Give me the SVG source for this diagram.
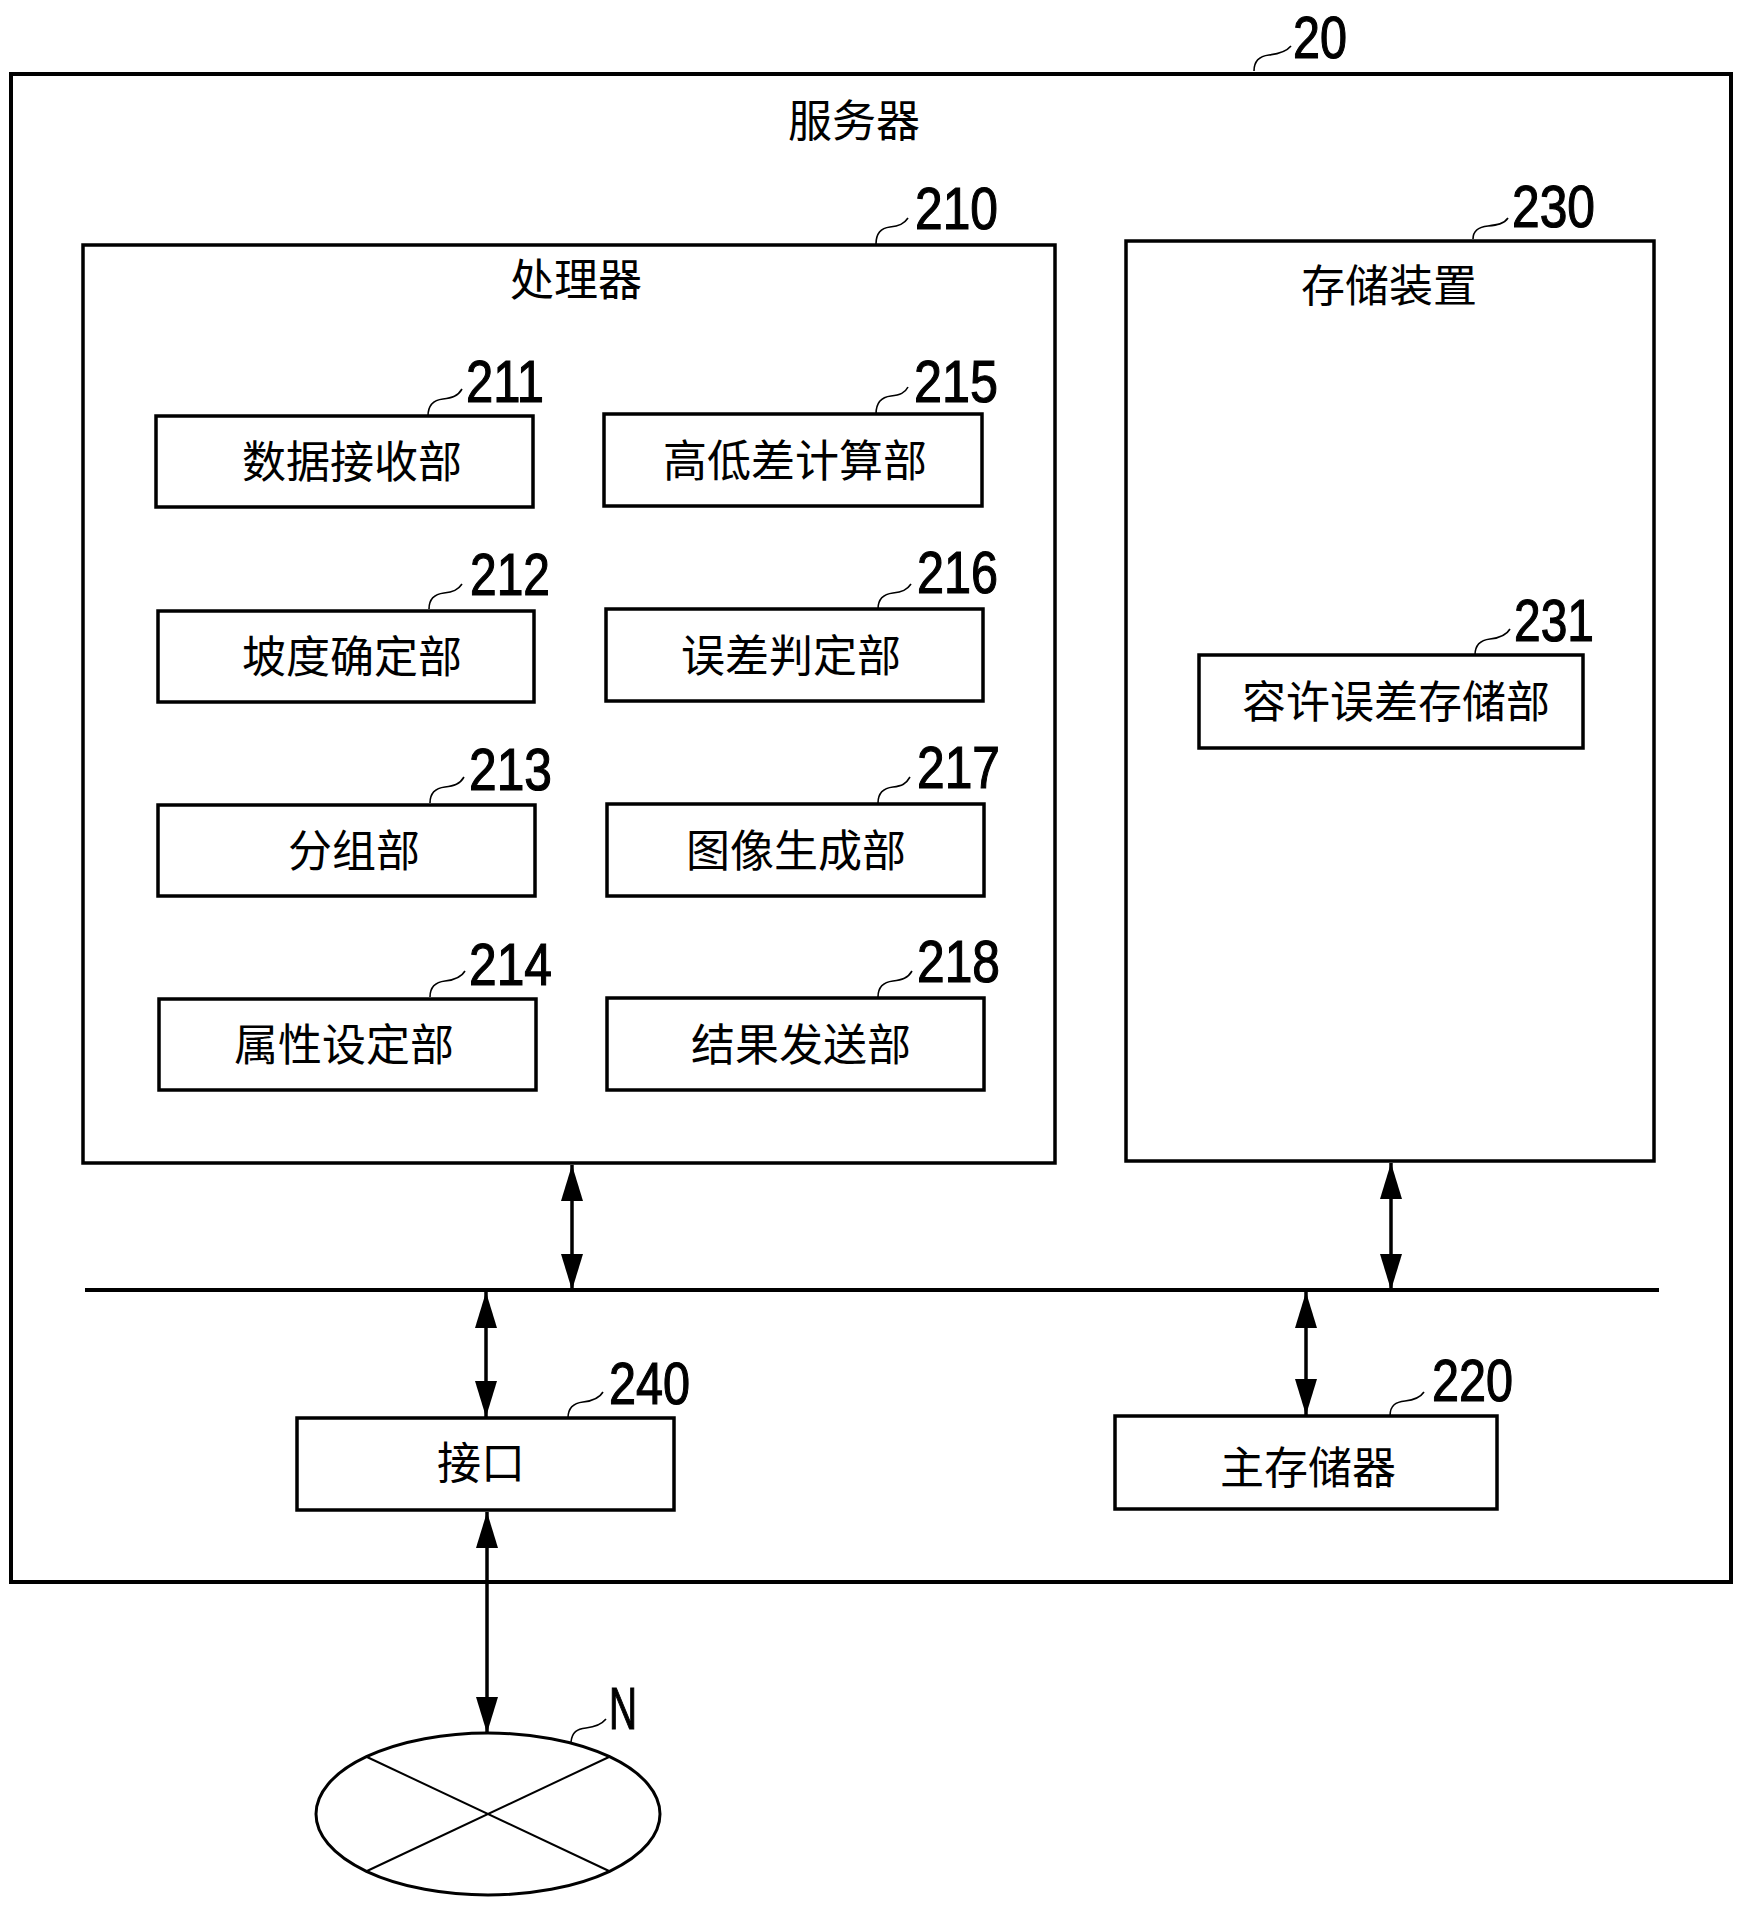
<svg xmlns="http://www.w3.org/2000/svg" width="1755" height="1906" viewBox="0 0 1755 1906">
<style>
.box{fill:none;stroke:#000;stroke-width:3.5}
.outer{fill:none;stroke:#000;stroke-width:4}
.t{font-family:"Noto Sans CJK SC","Noto Sans CJK JP",sans-serif;font-size:44px;text-anchor:middle;fill:#000}
.n{font-family:"Liberation Sans",Arial,sans-serif;font-size:60px;fill:#000;stroke:#000;stroke-width:1.2}
.ld{fill:none;stroke:#000;stroke-width:1.6}
.ar{fill:none;stroke:#000;stroke-width:3.5;marker-start:url(#ah);marker-end:url(#ah)}
.bus{fill:none;stroke:#000;stroke-width:4}
</style>
<defs>
<marker id="ah" markerUnits="userSpaceOnUse" markerWidth="36" markerHeight="22" refX="36" refY="11" orient="auto-start-reverse" viewBox="0 0 36 22">
<path d="M0,0 L36,11 L0,22 Z" fill="#000"/>
</marker>
</defs>
<rect width="1755" height="1906" fill="#fff"/>

<g id="server">
<rect class="outer" x="11" y="74" width="1720" height="1508"/>
<text class="t" x="854" y="137">服务器</text>
<path class="ld" d="M1254,71 c0,-11 6,-15 15,-16 c9,-1 17,-3 22,-9"/>
<text class="n" x="1293" y="58" textLength="54" lengthAdjust="spacingAndGlyphs">20</text>
</g>

<g id="processor">
<rect class="box" x="83" y="245" width="972" height="918"/>
<text class="t" x="576" y="296">处理器</text>
<path class="ld" d="M876,244 c0,-11 5,-16 14,-17 c9,-1 14,-3 18,-9"/>
<text class="n" x="915" y="229" textLength="83" lengthAdjust="spacingAndGlyphs">210</text>
</g>

<g id="storage">
<rect class="box" x="1126" y="241" width="528" height="920"/>
<text class="t" x="1389" y="302">存储装置</text>
<path class="ld" d="M1473,239 c0,-9 6,-12 15,-13 c9,-1 16,-2 20,-8"/>
<text class="n" x="1512" y="227" textLength="83" lengthAdjust="spacingAndGlyphs">230</text>
</g>

<g id="n211">
<rect class="box" x="156" y="416" width="377" height="91"/>
<text class="t" x="352" y="478">数据接收部</text>
<path class="ld" d="M428,416 c0,-11 6,-16 15,-17 c9,-1 15,-3 19,-10"/>
<text class="n" x="466" y="402" textLength="78" lengthAdjust="spacingAndGlyphs">211</text>
</g>

<g id="n215">
<rect class="box" x="604" y="414" width="378" height="92"/>
<text class="t" x="795" y="477">高低差计算部</text>
<path class="ld" d="M876,414 c0,-12 6,-17 15,-18 c9,-1 14,-3 17,-9"/>
<text class="n" x="914" y="402" textLength="84" lengthAdjust="spacingAndGlyphs">215</text>
</g>

<g id="n212">
<rect class="box" x="158" y="611" width="376" height="91"/>
<text class="t" x="352" y="673">坡度确定部</text>
<path class="ld" d="M429,609 c0,-11 6,-15 15,-16 c9,-1 14,-3 18,-9"/>
<text class="n" x="470" y="595" textLength="80" lengthAdjust="spacingAndGlyphs">212</text>
</g>

<g id="n216">
<rect class="box" x="606" y="609" width="377" height="92"/>
<text class="t" x="791" y="672">误差判定部</text>
<path class="ld" d="M878,609 c0,-11 6,-15 15,-16 c9,-1 14,-3 18,-9"/>
<text class="n" x="917" y="593" textLength="81" lengthAdjust="spacingAndGlyphs">216</text>
</g>

<g id="n213">
<rect class="box" x="158" y="805" width="377" height="91"/>
<text class="t" x="354" y="867">分组部</text>
<path class="ld" d="M430,803 c0,-11 6,-15 15,-16 c9,-1 15,-3 19,-10"/>
<text class="n" x="469" y="790" textLength="83" lengthAdjust="spacingAndGlyphs">213</text>
</g>

<g id="n217">
<rect class="box" x="607" y="804" width="377" height="92"/>
<text class="t" x="796" y="867">图像生成部</text>
<path class="ld" d="M878,803 c0,-11 6,-15 15,-16 c9,-1 13,-3 17,-10"/>
<text class="n" x="917" y="788" textLength="83" lengthAdjust="spacingAndGlyphs">217</text>
</g>

<g id="n214">
<rect class="box" x="159" y="999" width="377" height="91"/>
<text class="t" x="344" y="1061">属性设定部</text>
<path class="ld" d="M430,997 c0,-11 6,-15 15,-16 c9,-1 16,-3 20,-10"/>
<text class="n" x="469" y="985" textLength="83" lengthAdjust="spacingAndGlyphs">214</text>
</g>

<g id="n218">
<rect class="box" x="607" y="998" width="377" height="92"/>
<text class="t" x="801" y="1061">结果发送部</text>
<path class="ld" d="M878,997 c0,-11 6,-15 15,-16 c9,-1 15,-3 19,-10"/>
<text class="n" x="917" y="982" textLength="83" lengthAdjust="spacingAndGlyphs">218</text>
</g>

<g id="n231">
<rect class="box" x="1199" y="655" width="384" height="93"/>
<text class="t" x="1396" y="718">容许误差存储部</text>
<path class="ld" d="M1475,655 c0,-11 6,-15 15,-16 c9,-1 16,-3 20,-10"/>
<text class="n" x="1514" y="641" textLength="80" lengthAdjust="spacingAndGlyphs">231</text>
</g>

<g id="n240">
<rect class="box" x="297" y="1418" width="377" height="92"/>
<text class="t" x="481" y="1479">接口</text>
<path class="ld" d="M568,1418 c0,-11 6,-15 15,-16 c9,-1 16,-3 20,-10"/>
<text class="n" x="609" y="1404" textLength="81" lengthAdjust="spacingAndGlyphs">240</text>
</g>

<g id="n220">
<rect class="box" x="1115" y="1416" width="382" height="93"/>
<text class="t" x="1308" y="1484">主存储器</text>
<path class="ld" d="M1390,1416 c0,-11 6,-14 15,-15 c9,-1 15,-3 19,-9"/>
<text class="n" x="1432" y="1401" textLength="81" lengthAdjust="spacingAndGlyphs">220</text>
</g>

<g id="network">
<ellipse cx="488" cy="1814" rx="172" ry="81" fill="none" stroke="#000" stroke-width="3"/>
<line x1="367" y1="1757" x2="609" y2="1871" stroke="#000" stroke-width="2"/>
<line x1="609" y1="1757" x2="367" y2="1871" stroke="#000" stroke-width="2"/>
<path class="ld" d="M571,1742 c1,-10 6,-13 15,-14 c9,-1 15,-3 20,-9"/>
<text class="n" x="609" y="1729" textLength="28" lengthAdjust="spacingAndGlyphs">N</text>
</g>

<g id="connectors">
<line class="bus" x1="85" y1="1290" x2="1659" y2="1290"/>
<line class="ar" x1="572" y1="1165" x2="572" y2="1290"/>
<line class="ar" x1="1391" y1="1163" x2="1391" y2="1290"/>
<line class="ar" x1="486" y1="1292" x2="486" y2="1417"/>
<line class="ar" x1="1306" y1="1292" x2="1306" y2="1415"/>
<line class="ar" x1="487" y1="1512" x2="487" y2="1733"/>
</g>
</svg>
